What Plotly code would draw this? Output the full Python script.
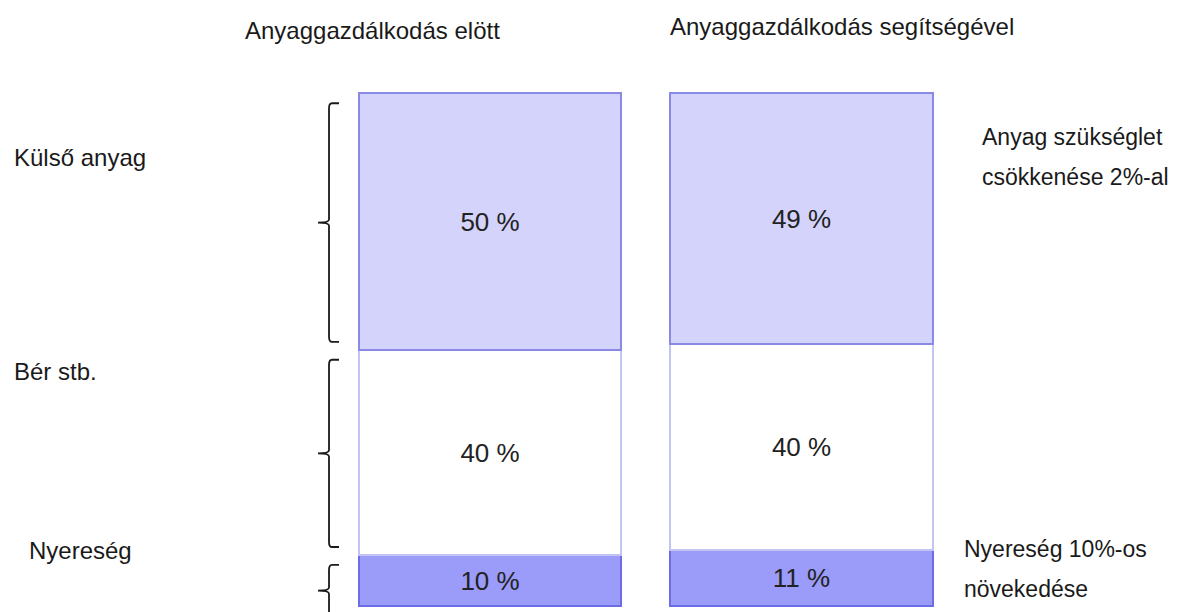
import plotly.graph_objects as go

# Cost structure before / after materials management (shares in %)
columns = ["Anyaggazdálkodás elött", "Anyaggazdálkodás segítségével"]
segments = ["Nyereség", "Bér stb.", "Külső anyag"]          # stacked bottom -> top
profit = [10, 11]
wages = [40, 40]
materials = [50, 49]

left_labels = ["Külső anyag", "Bér stb.", "Nyereség"]
right_notes = [["Anyag szükséglet", "csökkenése 2%-al"],
               ["Nyereség 10%-os", "növekedése"]]

W, H = 1186, 612
FONT = "Liberation Sans, Arial, sans-serif"
INK = "#1a1a1a"

xs = [0, 1]
bar_w = 0.843
# axis ranges so that the bars sit where the layout wants them
x_range = [-490 / 311.5, (W - 490) / 311.5]
y_range = [-6 / 5.13, 606 / 5.13]


def px_x(px):
    return (px - 490) / 311.5


fig = go.Figure()

series = [
    (profit, "#9b9bf9", "#6c6ce6"),
    (wages, "#ffffff", "#c4c4f2"),
    (materials, "#d3d3fb", "#8a8ae6"),
]
for name, (vals, fill, edge) in zip(segments, series):
    fig.add_trace(go.Bar(
        x=xs, y=vals, name=name, width=bar_w,
        marker=dict(color=fill, line=dict(color=edge, width=2)),
        text=[f"{v} %" for v in vals],
        textposition="inside", insidetextanchor="middle",
        textfont=dict(family=FONT, size=26, color="#222222"),
        constraintext="none",
        hoverinfo="skip",
    ))

# brackets beside the first column, one per segment
bounds = []
acc = 0
for vals, _, _ in series:
    bounds.append((acc, acc + vals[0]))
    acc += vals[0]

xv, xh, xt = px_x(329), px_x(339), px_x(318)
r = 1.0
for i, (lo, hi) in enumerate(bounds):
    top = hi - 2.0
    bot = lo + 1.5 if i > 0 else y_range[0] - 2
    mid = (top + bot) / 2 if i > 0 else (top + lo) / 2 - 1
    dx = (xh - xv) * 0.3
    path = (f"M {xh},{top} L {xv + dx},{top} Q {xv},{top} {xv},{top - r} "
            f"L {xv},{mid + r * 0.6} Q {xv},{mid} {xt},{mid} Q {xv},{mid} {xv},{mid - r * 0.6} "
            f"L {xv},{bot + r}")
    if i > 0:
        path += f" Q {xv},{bot} {xv + dx},{bot} L {xh},{bot}"
    fig.add_shape(type="path", path=path, xref="x", yref="y",
                  line=dict(color=INK, width=1.8))


def note(text, px, py, anchor="left", size=24):
    fig.add_annotation(text=text, x=px / W, y=1 - py / H, xref="paper", yref="paper",
                       xanchor=anchor, yanchor="middle", showarrow=False,
                       font=dict(family=FONT, size=size, color=INK))


# column headings
note(columns[0], 372, 30, "center")
note(columns[1], 842, 27, "center")

# segment names on the left
for text, (px, py) in zip(left_labels, [(12, 157), (12, 372), (27, 550)]):
    note(text, px, py)

# remarks on the right
for lines, (px, py) in zip(right_notes, [(980, 137), (962, 549)]):
    for k, line in enumerate(lines):
        note(line, px, py + 40 * k, size=23)

fig.update_layout(
    width=W, height=H, barmode="stack", bargap=0,
    margin=dict(l=0, r=0, t=0, b=0),
    paper_bgcolor="white", plot_bgcolor="white",
    showlegend=False,
    xaxis=dict(range=x_range, visible=False, fixedrange=True),
    yaxis=dict(range=y_range, visible=False, fixedrange=True),
)

fig.write_html("out.html", config={"displayModeBar": False})
